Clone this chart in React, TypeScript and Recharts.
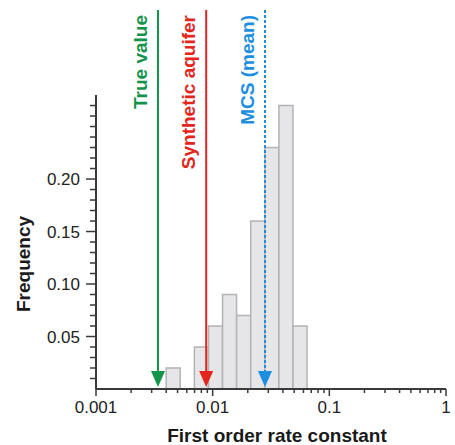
import { ComposedChart, Bar, XAxis, YAxis, ReferenceLine } from 'recharts'

// histogram bins (bin centre on the rate-constant axis) and their frequencies
const binCenters = [0.00459, 0.00606, 0.00801, 0.01058, 0.01397, 0.01845, 0.02436, 0.03217, 0.04248, 0.0561]
const frequencies = [0.02, null, 0.04, 0.06, 0.09, 0.07, 0.16, 0.23, 0.27, 0.06]

// vertical arrows
const markerNames = ['True value', 'Synthetic aquifer', 'MCS (mean)']
const markerValues = [0.0034, 0.0088, 0.0281]
const markerColors = ['#14944a', '#e2261d', '#1d8fe1']
const markerDashed = [false, false, true]

// axes
const xMajorTicks = [0.001, 0.01, 0.1, 1]
const xMajorLabels = ['0.001', '0.01', '0.1', '1']
const xMinorMultipliers = [2, 3, 4, 5, 6, 7, 8, 9]
const xMinorDecades = [0.001, 0.01, 0.1]
const yMajorTicks = [0.05, 0.1, 0.15, 0.2]
const yMajorLabels = ['0.05', '0.10', '0.15', '0.20']
const yMinorTicks = [
  0.01, 0.02, 0.03, 0.04, 0.06, 0.07, 0.08, 0.09, 0.11, 0.12, 0.13, 0.14,
  0.16, 0.17, 0.18, 0.19, 0.21, 0.22, 0.23, 0.24, 0.25, 0.26, 0.27,
]
const yAxisTop = 0.28
const yDomainTop = 0.361

const FONT = "'Liberation Sans', Arial, Helvetica, sans-serif"
const AXIS = '#3a3a3a'

const data = binCenters.map((c, i) => ({ logK: Math.log10(c), freq: frequencies[i] }))

const xMajorLogs = xMajorTicks.map((t) => Math.log10(t))
const xMinorLogs = xMinorDecades.flatMap((d) => xMinorMultipliers.map((m) => Math.log10(m * d)))
const xTicks = [...xMajorLogs, ...xMinorLogs]
const yTicks = [...yMajorTicks, ...yMinorTicks]

function XTick(props: any) {
  const { x, y, payload } = props
  const idx = xMajorLogs.findIndex((v) => Math.abs(v - payload.value) < 1e-9)
  const major = idx >= 0
  return (
    <g>
      <line x1={x} x2={x} y1={y} y2={y + (major ? 7 : 4)} stroke={AXIS} strokeWidth={1.5} />
      {major && (
        <text x={x} y={y + 24} textAnchor="middle" fontFamily={FONT} fontSize={17} fill="#222">
          {xMajorLabels[idx]}
        </text>
      )}
    </g>
  )
}

function YTick(props: any) {
  const { x, y, payload } = props
  const idx = yMajorTicks.findIndex((v) => Math.abs(v - payload.value) < 1e-9)
  const major = idx >= 0
  return (
    <g>
      <line x1={x - (major ? 10 : 6)} x2={x} y1={y} y2={y} stroke={AXIS} strokeWidth={1.5} />
      {major && (
        <text x={x - 16} y={y + 6} textAnchor="end" fontFamily={FONT} fontSize={17} fill="#222">
          {yMajorLabels[idx]}
        </text>
      )}
    </g>
  )
}

function arrowShape(name: string, color: string, dashed: boolean) {
  return (props: any) => {
    const { x1, y1, y2 } = props
    const x = x1
    const tip = Math.max(y1, y2)
    const top = Math.min(y1, y2)
    const headH = 16
    const headW = 7
    return (
      <g>
        <line
          x1={x}
          x2={x}
          y1={top}
          y2={tip - headH + 2}
          stroke={color}
          strokeWidth={2}
          strokeDasharray={dashed ? '3 2' : undefined}
        />
        <polygon points={`${x - headW},${tip - headH} ${x + headW},${tip - headH} ${x},${tip}`} fill={color} />
        <text
          x={x - 11}
          y={top + 5}
          transform={`rotate(-90 ${x - 11} ${top + 5})`}
          textAnchor="end"
          fontFamily={FONT}
          fontSize={19}
          fontWeight="bold"
          fill={color}
        >
          {name}
        </text>
      </g>
    )
  }
}

export default function App() {
  return (
    <div style={{ position: 'absolute', left: 0, top: 0, background: '#fff' }}>
      <ComposedChart
        width={455}
        height={445}
        data={data}
        margin={{ top: 10, right: 9, bottom: 0, left: 0 }}
        barCategoryGap={0}
        barGap={0}
      >
        <XAxis
          dataKey="logK"
          type="number"
          domain={[-3, 0]}
          ticks={xTicks}
          interval={0}
          height={56}
          tickSize={0}
          tickMargin={0}
          tickLine={false}
          tick={<XTick />}
          axisLine={{ stroke: AXIS, strokeWidth: 2 }}
          label={{
            content: (p: any) => {
              const vb = p.viewBox
              return (
                <text
                  x={vb.x + vb.width / 2 + 6}
                  y={vb.y + 53}
                  textAnchor="middle"
                  fontFamily={FONT}
                  fontSize={19}
                  fontWeight="bold"
                  fill="#1a1a1a"
                >
                  First order rate constant
                </text>
              )
            },
          }}
        />
        <YAxis
          type="number"
          domain={[0, yDomainTop]}
          ticks={yTicks}
          interval={0}
          width={96}
          tickSize={0}
          tickMargin={0}
          tickLine={false}
          tick={<YTick />}
          axisLine={false}
          label={{
            content: (p: any) => {
              const vb = p.viewBox
              const cx = vb.x + 30
              const cy = vb.y + vb.height - 125
              return (
                <text
                  x={cx}
                  y={cy}
                  transform={`rotate(-90 ${cx} ${cy})`}
                  textAnchor="middle"
                  fontFamily={FONT}
                  fontSize={19}
                  fontWeight="bold"
                  fill="#1a1a1a"
                >
                  Frequency
                </text>
              )
            },
          }}
        />
        <Bar dataKey="freq" fill="#e6e6e9" stroke="#b3b3b7" strokeWidth={1.5} isAnimationActive={false} />
        <ReferenceLine
          segment={[
            { x: -3, y: 0 },
            { x: -3, y: yAxisTop },
          ]}
          stroke={AXIS}
          strokeWidth={2}
          ifOverflow="visible"
        />
        {markerNames.map((name, i) => (
          <ReferenceLine
            key={name}
            segment={[
              { x: Math.log10(markerValues[i]), y: 0.002 },
              { x: Math.log10(markerValues[i]), y: yDomainTop },
            ]}
            ifOverflow="visible"
            shape={arrowShape(name, markerColors[i], markerDashed[i])}
          />
        ))}
      </ComposedChart>
    </div>
  )
}
